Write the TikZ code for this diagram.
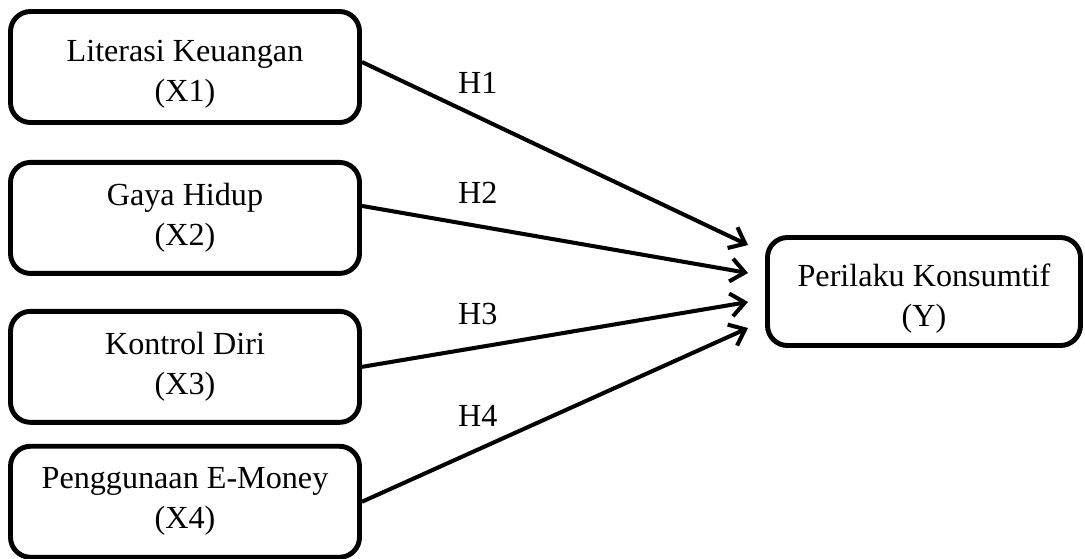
\documentclass[tikz,border=0pt]{standalone}
\usepackage{fontspec}
\setmainfont{Liberation Serif}
\usepackage{tikz}
\usetikzlibrary{positioning}
\usetikzlibrary{calc}
\usetikzlibrary{arrows.meta}

\begin{document}
\begin{tikzpicture}[
  box/.style={draw, line width=2.8pt, rounded corners=0.4cm, align=center,
    minimum width=6.98cm, minimum height=2.22cm, font=\fontsize{18.3}{22.8}\selectfont},
  link/.style={line width=2.3pt, -{Straight Barb[length=0.28cm,width=0.46cm]}},
  hyp/.style={font=\fontsize{18.3}{22.8}\selectfont, inner sep=0pt}
]
\useasboundingbox (0,0) rectangle (21.7,-11.16);

\node (A1) [box] at (3.7,-1.34) {\rule{0pt}{0.72cm}Literasi Keuangan\\(X1)};
\node (A2) [box, below=0.7cm of A1]  {Gaya Hidup\\(X2)};
\node (A3) [box, below=0.66cm of A2] {Kontrol Diri\\(X3)};
\node (A4) [box, below=0.38cm of A3] {Penggunaan E-Money\\(X4)};

\node (B1) [box, minimum width=6.26cm, minimum height=2.16cm] at (18.48,-5.83) {\rule{0pt}{0.72cm}Perilaku Konsumtif\\(Y)};

% start and end points of the arrows
\coordinate (S1) at ($(A1.east)+(0,0.1)$);
\coordinate (S2) at ($(A2.east)+(0,0.24)$);
\coordinate (E1) at ($(B1.west)+(-0.34,0.93)$);
\coordinate (E2) at ($(B1.west)+(-0.34,0.37)$);
\coordinate (E3) at ($(B1.west)+(-0.34,-0.21)$);
\coordinate (E4) at ($(B1.west)+(-0.34,-0.73)$);

\draw [link] (S1) -- (E1) node (H1) [hyp, pos=0.3, above=0.42cm] {H1};
\draw [link] (S2) -- (E2) node (H2) [hyp, pos=0.3, above=0.42cm] {H2};
\draw [link] (A3.east) -- (E3) node (H3) [hyp, pos=0.3, above=0.42cm] {H3};
\draw [link] (A4.east) -- (E4) node (H4) [hyp, pos=0.3, above=0.42cm] {H4};
\end{tikzpicture}
\end{document}
